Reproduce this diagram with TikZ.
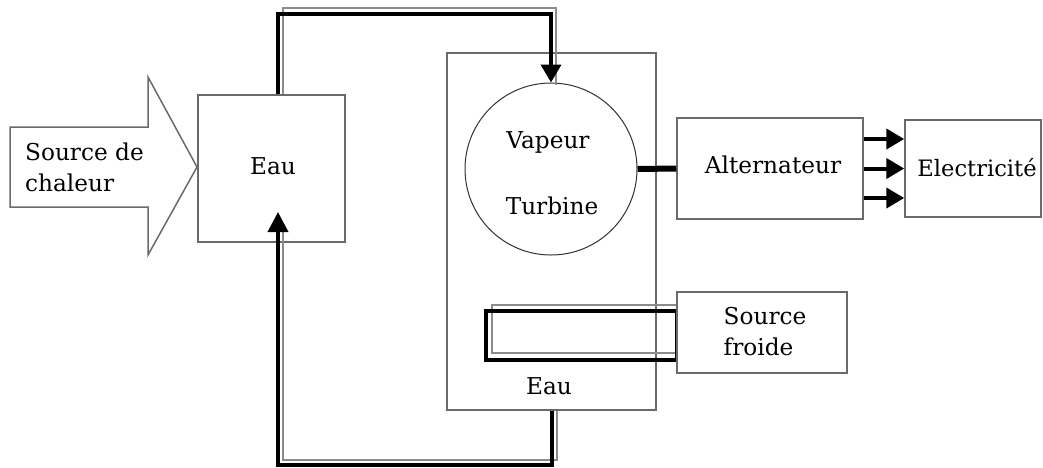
\documentclass[tikz,border=0pt]{standalone}
\usepackage{fontspec}
\setmainfont{DejaVu Serif}
\usetikzlibrary{arrows.meta}
\definecolor{boxgray}{HTML}{6A6A6A}
\definecolor{shadowgray}{HTML}{8C8C8C}
\tikzset{
  box/.style={draw=boxgray, line width=1.5pt, inner sep=0pt},
  lbl/.style={font=\fontsize{23.2}{31}\selectfont, text=black, inner sep=0pt},
  pipe/.style={draw=black, line width=3.8pt},
  pipeshadow/.style={draw=shadowgray, line width=1.6pt},
  bigtip/.style={-{Triangle[length=18pt,width=20pt]}},
  elarrow/.style={draw=black, line width=4pt, -{Triangle[length=18pt,width=20pt]}, shorten >=0pt}
}
\begin{document}
\begin{tikzpicture}[x=1pt,y=-1pt]
\useasboundingbox (0,0) rectangle (1043,467);
% boxes
\node[box, minimum width=147pt, minimum height=147pt] (eau1) at (271.5,168.5) {};
\node[lbl] (eau1t) at (273,166) {Eau};
\node[box, minimum width=209pt, minimum height=357pt] (big) at (551.5,231.5) {};
\node[box, draw=black!80, line width=1pt, circle, minimum size=172pt] (turb) at (551,169) {};
\node[lbl] (vap) at (548,142) {Vapeur};
\node[lbl] (tur) at (552,206) {Turbine};
\node[box, minimum width=186pt, minimum height=101pt] (alt) at (770,168.5) {};
\node[lbl] (altt) at (773,165) {Alternateur};
\node[box, minimum width=136pt, minimum height=97pt] (elec) at (973,168.5) {};
\node[lbl, font=\fontsize{22.6}{31}\selectfont] (elect) at (977,168) {Electricité};
\node[lbl] (eau2) at (549,386) {Eau};
% heat arrow
\draw[box] (10,127) -- (148,127) -- (148,77) -- (197,167) -- (148,255) -- (148,207) -- (10,207) -- cycle;
\node[lbl, align=left, anchor=west] (heat) at (25,167) {Source de\\chaleur};
% top pipe
\coordinate (t1) at (278,14);
\coordinate (t2) at (551,14);
\coordinate (s1) at (283,8);
\coordinate (s2) at (556,8);
\draw[pipeshadow] (eau1.north -| s1) -- (s1) -- (s2) -- ([yshift=-2pt]turb.north -| s2);
\draw[pipe, bigtip] (eau1.north -| t1) -- (t1) -- (t2) -- (turb.north);
% bottom pipe
\coordinate (b1) at (552,465);
\coordinate (b2) at (278,465);
\coordinate (c1) at (557,460);
\coordinate (c2) at (283,460);
\draw[pipeshadow] (big.south -| c1) -- (c1) -- (c2) -- (283,232);
\draw[pipe, -{Triangle[length=20pt,width=20pt]}] (big.south -| b1) -- (b1) -- (b2) -- (278,212) coordinate (uptip);
% condenser loop
\draw[pipeshadow] (492,305) rectangle (677,353);
\draw[pipe, line width=3.4pt] (486,311) rectangle (677,360);
% cold source box
\node[box, fill=white, minimum width=170pt, minimum height=81pt] (froid) at (762,332.5) {};
\node[lbl, align=left] (froidt) at (765,332) {Source\\froide};
% shaft
\draw[line width=6pt] (turb.east) -- (alt.west);
% electricity arrows
\draw[elarrow] ([yshift=29.5pt]alt.east) -- ([yshift=29.5pt]alt.east -| elec.west);
\draw[elarrow] (alt.east) -- (alt.east -| elec.west);
\draw[elarrow] ([yshift=-29.5pt]alt.east) -- ([yshift=-29.5pt]alt.east -| elec.west);
\end{tikzpicture}
\end{document}
